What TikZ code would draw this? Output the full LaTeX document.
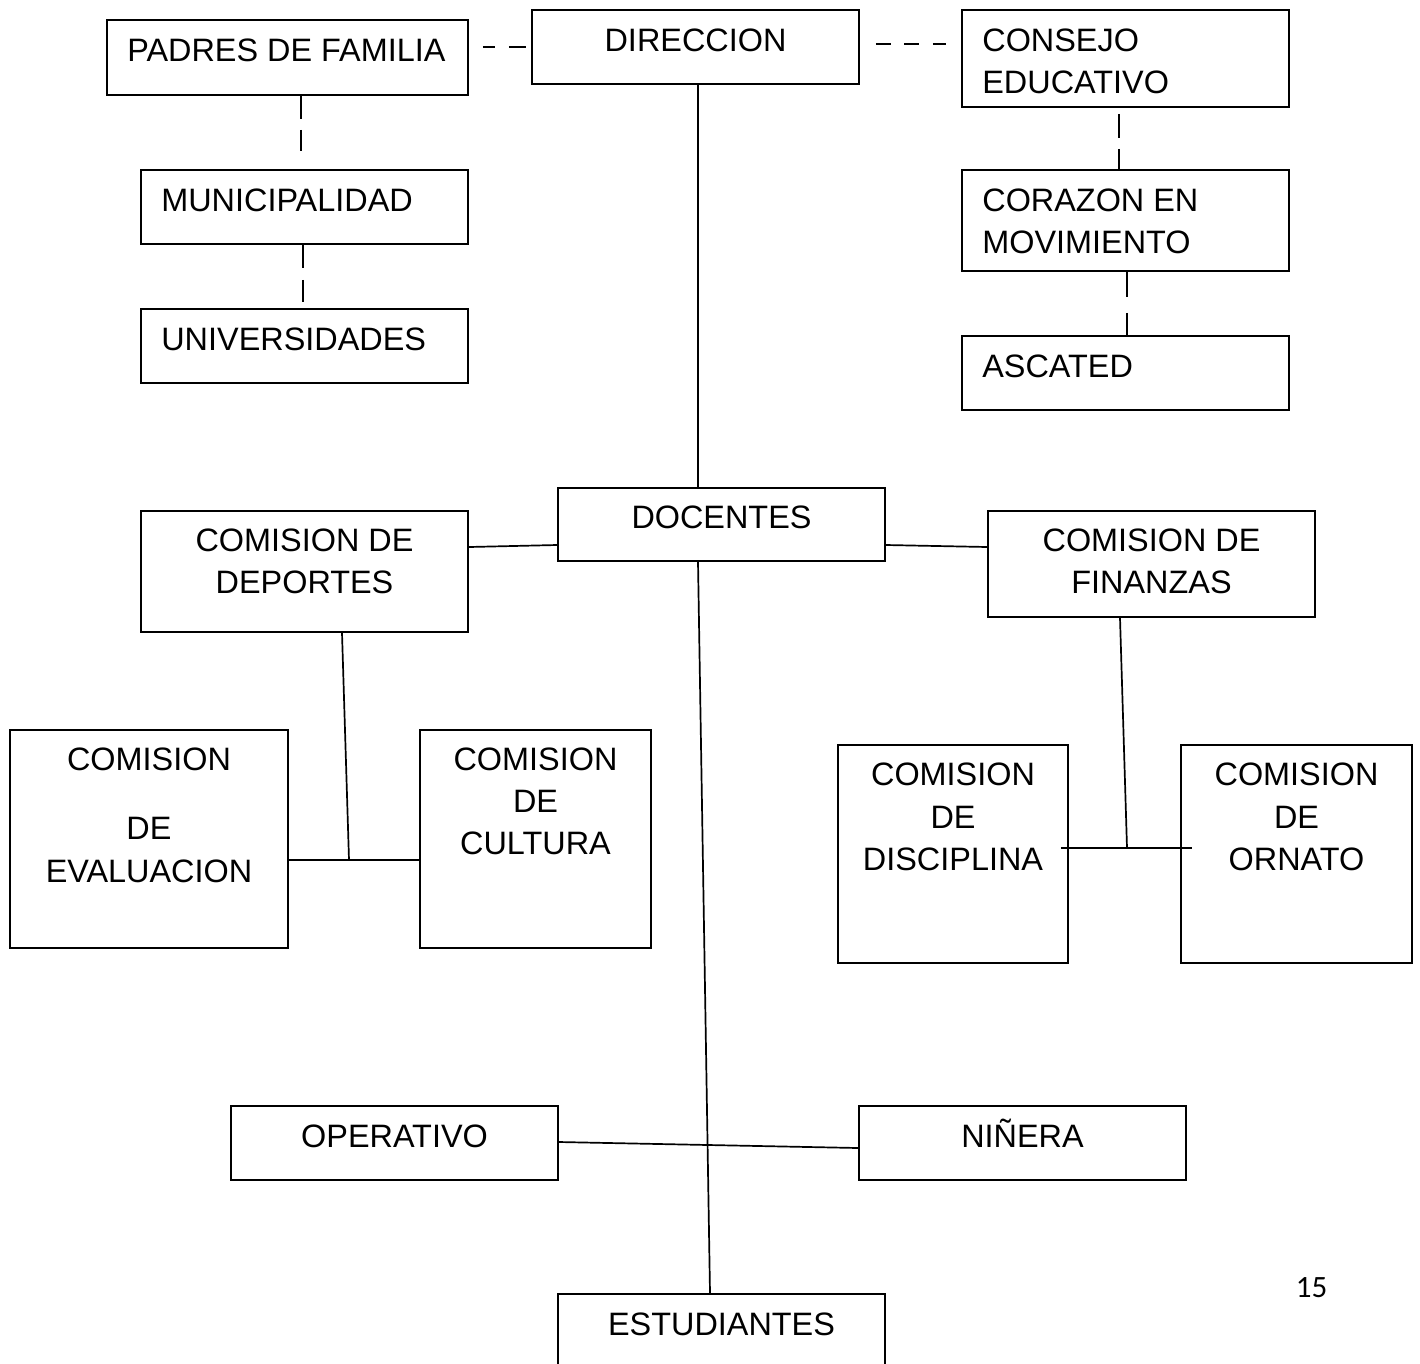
\documentclass[tikz,border=0pt]{standalone}
\usepackage{fontspec}
\setmainfont{Liberation Sans}
\newfontfamily\pagefont{Carlito}
\usetikzlibrary{calc}
\begin{document}
\begin{tikzpicture}[x=1pt,y=-1pt,
  box/.style={draw, line width=1.7pt, inner sep=0pt},
  lbl/.style={inner sep=0pt, font=\fontsize{32.4}{38}\selectfont},
  conn/.style={line width=1.7pt},
  vdash/.style={line width=1.7pt, dash pattern=on 23pt off 11pt}]
\fill[white] (0,0) rectangle (1420,1363);
\useasboundingbox (0,0) rectangle (1420,1363);

% top left column
\node[box, minimum width=361pt, minimum height=75pt,
  label={[lbl,anchor=base west,xshift=21pt,yshift=-42pt]north west:PADRES DE FAMILIA}] (padres) at (287.5,57.5) {};
\node[box, minimum width=327pt, minimum height=74pt,
  label={[lbl,anchor=base west,xshift=21pt,yshift=-42pt]north west:MUNICIPALIDAD}] (muni) at (304.5,207) {};
\node[box, minimum width=327pt, minimum height=74pt,
  label={[lbl,anchor=base west,xshift=21pt,yshift=-42pt]north west:UNIVERSIDADES}] (univ) at (304.5,346) {};

% direccion
\node[box, minimum width=327pt, minimum height=74pt,
  label={[lbl,anchor=base,yshift=-42pt]north:DIRECCION}] (direccion) at (695.5,47) {};

% top right column
\node[box, minimum width=327pt, minimum height=97pt,
  label={[lbl,anchor=base west,xshift=21pt,yshift=-42pt]north west:CONSEJO},
  label={[lbl,anchor=base west,xshift=21pt,yshift=-84pt]north west:EDUCATIVO}] (consejo) at (1125.5,58.5) {};
\node[box, minimum width=327pt, minimum height=101pt,
  label={[lbl,anchor=base west,xshift=21pt,yshift=-42pt]north west:CORAZON EN},
  label={[lbl,anchor=base west,xshift=21pt,yshift=-84pt]north west:MOVIMIENTO}] (corazon) at (1125.5,220.5) {};
\node[box, minimum width=327pt, minimum height=74pt,
  label={[lbl,anchor=base west,xshift=21pt,yshift=-42pt]north west:ASCATED}] (ascated) at (1125.5,373) {};

% docentes
\node[box, minimum width=327pt, minimum height=73pt,
  label={[lbl,anchor=base,yshift=-41pt]north:DOCENTES}] (docentes) at (721.5,524.5) {};

% commissions
\node[box, minimum width=327pt, minimum height=121pt,
  label={[lbl,anchor=base,yshift=-41pt]north:COMISION DE},
  label={[lbl,anchor=base,yshift=-83pt]north:DEPORTES}] (deportes) at (304.5,571.5) {};
\node[box, minimum width=327pt, minimum height=106pt,
  label={[lbl,anchor=base,yshift=-41pt]north:COMISION DE},
  label={[lbl,anchor=base,yshift=-83pt]north:FINANZAS}] (finanzas) at (1151.5,564) {};

\node[box, minimum width=278pt, minimum height=218pt,
  label={[lbl,anchor=base,yshift=-41pt]north:COMISION},
  label={[lbl,anchor=base,yshift=-110pt]north:DE},
  label={[lbl,anchor=base,yshift=-153pt]north:EVALUACION}] (evaluacion) at (149,839) {};
\node[box, minimum width=231pt, minimum height=218pt,
  label={[lbl,anchor=base,yshift=-41pt]north:COMISION},
  label={[lbl,anchor=base,yshift=-83pt]north:DE},
  label={[lbl,anchor=base,yshift=-125pt]north:CULTURA}] (cultura) at (535.5,839) {};

\node[box, minimum width=230pt, minimum height=218pt,
  label={[lbl,anchor=base,yshift=-41pt]north:COMISION},
  label={[lbl,anchor=base,yshift=-84pt]north:DE},
  label={[lbl,anchor=base,yshift=-126pt]north:DISCIPLINA}] (disciplina) at (953,854) {};
\node[box, minimum width=231pt, minimum height=218pt,
  label={[lbl,anchor=base,yshift=-41pt]north:COMISION},
  label={[lbl,anchor=base,yshift=-84pt]north:DE},
  label={[lbl,anchor=base,yshift=-126pt]north:ORNATO}] (ornato) at (1296.5,854) {};

% bottom
\node[box, minimum width=327pt, minimum height=74pt,
  label={[lbl,anchor=base,yshift=-42pt]north:OPERATIVO}] (operativo) at (394.5,1143) {};
\node[box, minimum width=327pt, minimum height=74pt,
  label={[lbl,anchor=base,yshift=-42pt]north:NIÑERA}] (ninera) at (1022.5,1143) {};
\node[box, minimum width=327pt, minimum height=100pt,
  label={[lbl,anchor=base,yshift=-42pt]north:ESTUDIANTES}] (estudiantes) at (721.5,1344) {};

\node[inner sep=0pt, anchor=base, font=\pagefont\fontsize{31}{36}\selectfont] (pagenum) at (1311.5,1297) {15};

% dashed connectors
\draw[line width=1.7pt, dash pattern=on 12pt off 14pt on 19pt off 0pt]
  ([xshift=14pt]padres.east |- direccion.west) -- ([xshift=-5pt]direccion.west);
\draw[line width=1.7pt, dash pattern=on 15pt off 13.5pt]
  ([xshift=16pt,yshift=3pt]direccion.east) -- ([xshift=-15pt,yshift=14.5pt]consejo.west);
\draw[vdash] ([xshift=13.5pt]padres.south) -- ([xshift=-3.5pt,yshift=18pt]muni.north);
\draw[line width=1.7pt, dash pattern=on 23pt off 12pt]
  ([xshift=-1.5pt]muni.south) -- ([xshift=-1.5pt,yshift=6pt]univ.north);
\draw[line width=1.7pt, dash pattern=on 24pt off 11pt]
  ([xshift=-6.5pt,yshift=-6pt]consejo.south) -- ([xshift=-6.5pt]corazon.north);
\draw[line width=1.7pt, dash pattern=on 25pt off 16pt]
  ([xshift=1.5pt]corazon.south) -- ([xshift=1.5pt]ascated.north);

% solid connectors
\draw[conn] ([xshift=2.5pt]direccion.south) -- ([xshift=2.5pt]direccion.south |- docentes.north);
\draw[conn] ([xshift=-23.5pt]docentes.south) -- ([xshift=-11.5pt]estudiantes.north);
\draw[conn] ([yshift=-20.5pt]docentes.west) -- ([yshift=24.5pt]deportes.east);
\draw[conn] ([yshift=-20.5pt]docentes.east) -- ([yshift=17pt]finanzas.west);

\coordinate (jdep) at (349,860);
\draw[conn] ([xshift=37.5pt]deportes.south) -- (jdep);
\draw[conn] ([yshift=-21pt]evaluacion.east) -- ([yshift=-21pt]cultura.west);

\coordinate (jfin) at (1127,848);
\draw[conn] ([xshift=-31.5pt]finanzas.south) -- (jfin);
\draw[conn] ([xshift=-8pt,yshift=6pt]disciplina.east) -- ([xshift=12pt,yshift=6pt]ornato.west);

\draw[conn] ([yshift=1pt]operativo.east) -- ([yshift=-5pt]ninera.west);
\end{tikzpicture}
\end{document}
